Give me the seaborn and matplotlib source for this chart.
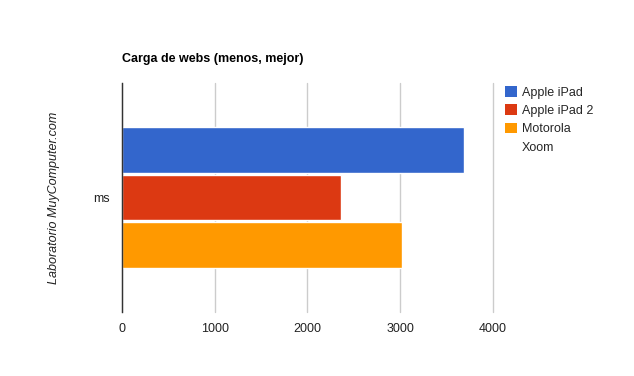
import matplotlib
matplotlib.use("Agg")
import matplotlib.pyplot as plt
import seaborn as sns
import pandas as pd
from matplotlib.patches import Patch

categories = ["ms"]
devices = ["Apple iPad", "Apple iPad 2", "Motorola Xoom"]
values = [3690, 2360, 3020]
colors = ["#3366CC", "#DC3912", "#FF9900"]
xticks = [0, 1000, 2000, 3000, 4000]

df = pd.DataFrame({"cat": categories * len(devices), "device": devices, "value": values})

sns.set_theme(style="white")
plt.rcParams["font.family"] = ["Liberation Sans", "DejaVu Sans"]

fig = plt.figure(figsize=(6.34, 3.76), dpi=100)
ax = fig.add_axes([0.1924, 0.1702, 0.5852, 0.609])

sns.barplot(data=df, x="value", y="cat", hue="device", palette=colors,
            orient="h", width=0.62, gap=0.04, ax=ax, legend=False,
            saturation=1, errorbar=None)

ax.set_xlim(0, 4000)
ax.set_ylim(0.5, -0.5)
ax.set_xticks(xticks)
ax.set_xticklabels([str(t) for t in xticks], fontsize=9, color="#222222")
ax.tick_params(axis="y", labelsize=9, colors="#222222", length=0, pad=9)
ax.tick_params(axis="x", length=0, pad=8)
ax.grid(axis="x", color="#cccccc", linewidth=1)
for gl in ax.get_xgridlines():
    gl.set_clip_on(False)
ax.set_axisbelow(True)
for s in ["top", "right", "bottom"]:
    ax.spines[s].set_visible(False)
ax.spines["left"].set_color("#333333")
ax.spines["left"].set_linewidth(1)
ax.spines["left"].set_zorder(5)

ax.set_xlabel("")
ax.set_ylabel("Laboratorio MuyComputer.com", fontsize=9, style="italic",
              color="#222222")
ax.yaxis.set_label_coords((60 - 122) / 371, 0.5)

fig.text(122 / 634, 1 - 59 / 376, "Carga de webs (menos, mejor)", fontsize=9,
         fontweight="bold", color="#000000", va="center", ha="left")

# legend: the last device name wraps onto a second line
legend_labels = ["Apple iPad", "Apple iPad 2", "Motorola", "Xoom"]
handles = [Patch(facecolor=c, edgecolor="none") for c in colors]
handles.append(Patch(facecolor="none", edgecolor="none"))
leg = fig.legend(handles, legend_labels, loc="upper left",
                 bbox_to_anchor=(505 / 634, 1 - 86 / 376), frameon=False,
                 fontsize=9, handlelength=0.95, handleheight=0.95, handletextpad=0.4,
                 labelspacing=0.45, borderaxespad=0, borderpad=0)

fig.savefig("out.png", dpi=100)
